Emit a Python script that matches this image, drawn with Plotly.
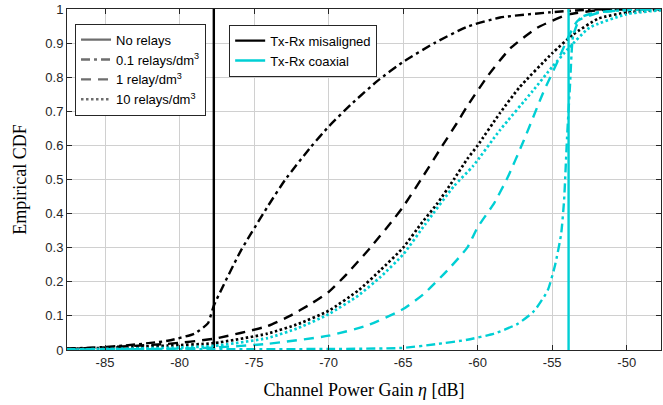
import plotly.graph_objects as go

# ---------------- data ----------------
x_ticks = [-85, -80, -75, -70, -65, -60, -55, -50]
y_ticks = [0, 0.1, 0.2, 0.3, 0.4, 0.5, 0.6, 0.7, 0.8, 0.9, 1]
y_tick_text = ["0", "0.1", "0.2", "0.3", "0.4", "0.5", "0.6", "0.7", "0.8", "0.9", "1"]

# No relays (step CDFs -> vertical lines)
mis_none_x = [-77.7, -77.7]
mis_none_y = [0, 1]
coa_none_x = [-53.9, -53.9]
coa_none_y = [0, 1]

# misaligned, 0.1 relays/dm^3
mis_01_x = [-87.6, -85.3, -83.7, -80.8, -79.0, -78.1, -77.7, -75.9, -74.1, -72.9, -71.2,
            -70.0, -68.5, -66.7, -65.0, -62.9, -60.7, -58.5, -55.2, -52.5, -47.6]
mis_01_y = [0.004, 0.008, 0.013, 0.027, 0.048, 0.078, 0.13, 0.29, 0.42, 0.50, 0.595,
            0.655, 0.72, 0.79, 0.845, 0.90, 0.948, 0.975, 0.99, 0.998, 1.0]

# misaligned, 1 relay/dm^3
mis_1_x = [-87.6, -85.3, -80.8, -77.7, -74.1, -72.6, -71.2, -70.0, -68.8, -67.2, -65.7,
           -65.0, -63.8, -62.5, -61.4, -60.7, -59.3, -57.8, -56.0, -54.0, -52.0, -50.5, -47.6]
mis_1_y = [0.004, 0.007, 0.018, 0.033, 0.07, 0.10, 0.135, 0.17, 0.222, 0.30, 0.38,
           0.42, 0.50, 0.59, 0.665, 0.715, 0.805, 0.885, 0.945, 0.983, 0.996, 0.999, 1.0]

# misaligned, 10 relays/dm^3
mis_10_x = [-87.6, -85.0, -80.8, -77.7, -74.1, -72.0, -70.0, -68.0, -66.5, -65.0, -63.8,
            -62.7, -61.6, -60.7, -60.0, -58.5, -57.2, -55.0, -53.6, -51.9, -50.0, -47.6]
mis_10_y = [0.003, 0.006, 0.013, 0.02, 0.048, 0.077, 0.115, 0.175, 0.235, 0.30, 0.37,
            0.43, 0.50, 0.56, 0.60, 0.695, 0.77, 0.87, 0.925, 0.972, 0.99, 0.998]

# coaxial, 0.1 relays/dm^3
coa_01_x = [-87.6, -70.0, -65.1, -62.8, -60.7, -58.9, -57.3, -56.2, -55.3, -54.8, -54.4,
            -54.2, -54.1, -54.0, -53.8, -53.6, -53.1, -52.0, -50.0, -47.6]
coa_01_y = [0.002, 0.003, 0.006, 0.017, 0.03, 0.048, 0.077, 0.115, 0.175, 0.25, 0.34,
            0.44, 0.53, 0.625, 0.78, 0.92, 0.975, 0.99, 0.997, 1.0]

# coaxial, 1 relay/dm^3
coa_1_x = [-87.6, -80.0, -77.7, -74.1, -70.0, -67.4, -65.0, -63.6, -62.0, -60.7, -60.0,
           -58.9, -58.0, -56.9, -55.6, -54.7, -54.0, -53.3, -51.8, -50.0, -47.6]
coa_1_y = [0.001, 0.004, 0.007, 0.018, 0.042, 0.072, 0.12, 0.165, 0.235, 0.30, 0.36,
           0.43, 0.505, 0.615, 0.755, 0.84, 0.91, 0.965, 0.99, 0.997, 1.0]

# coaxial, 10 relays/dm^3
coa_10_x = [-87.6, -85.0, -80.0, -77.7, -74.1, -72.0, -70.0, -68.0, -66.5, -65.0, -63.5,
            -61.6, -60.3, -58.5, -56.3, -55.0, -53.9, -52.5, -50.0, -47.6]
coa_10_y = [0.001, 0.003, 0.007, 0.012, 0.035, 0.065, 0.105, 0.16, 0.215, 0.28, 0.37,
            0.48, 0.54, 0.645, 0.76, 0.83, 0.885, 0.945, 0.985, 0.997]

legend_density_names = ["No relays", "0.1 relays/dm<sup>3</sup>", "1 relay/dm<sup>3</sup>",
                        "10 relays/dm<sup>3</sup>"]
legend_align_names = ["Tx-Rx misaligned", "Tx-Rx coaxial"]

# ---------------- styles ----------------
BLACK = "#000000"
CYAN = "#00CFD4"
GRAY = "#6e6e6e"
W = 2.4
DASHDOT = "9px,4px,3px,4px"
DASH = "10px,7px"
DOT = "2.5px,2.5px"
styles = ["solid", DASHDOT, DASH, DOT]

fig = go.Figure()

series = [
    (mis_none_x, mis_none_y, BLACK, "solid", W),
    (mis_01_x, mis_01_y, BLACK, DASHDOT, W),
    (mis_1_x, mis_1_y, BLACK, DASH, W),
    (mis_10_x, mis_10_y, BLACK, DOT, 2.7),
    (coa_10_x, coa_10_y, CYAN, DOT, 2.7),
    (coa_1_x, coa_1_y, CYAN, DASH, W),
    (coa_01_x, coa_01_y, CYAN, DASHDOT, W),
    (coa_none_x, coa_none_y, CYAN, "solid", W),
]
for xs, ys, c, d, w in series:
    fig.add_trace(go.Scatter(x=xs, y=ys, mode="lines", showlegend=False,
                             line=dict(color=c, width=w, dash=d, shape="spline", smoothing=0.5),
                             hoverinfo="skip"))

for name, d in zip(legend_density_names, styles):
    fig.add_trace(go.Scatter(x=[None], y=[None], mode="lines", name=name, legend="legend",
                             line=dict(color=GRAY, width=W, dash=d)))
for name, c in zip(legend_align_names, [BLACK, CYAN]):
    fig.add_trace(go.Scatter(x=[None], y=[None], mode="lines", name=name, legend="legend2",
                             line=dict(color=c, width=W)))

axis_common = dict(showgrid=True, gridcolor="#d0d0d0", gridwidth=1, zeroline=False,
                   showline=True, linecolor="#262626", linewidth=1, mirror="ticks",
                   ticks="inside", ticklen=5, tickcolor="#262626",
                   tickfont=dict(family="Liberation Sans, Arial", size=13, color="#262626"))

fig.update_layout(
    width=663, height=405,
    margin=dict(l=67, r=2, t=9, b=55),
    paper_bgcolor="white", plot_bgcolor="white",
    xaxis=dict(range=[-87.55, -47.7], tickvals=x_ticks, ticktext=[str(v) for v in x_ticks],
               title=dict(text="Channel Power Gain <i>η</i> [dB]", standoff=14,
                          font=dict(family="Liberation Serif, Times New Roman", size=18, color="#000")),
               **axis_common),
    yaxis=dict(range=[0, 1], tickvals=y_ticks, ticktext=y_tick_text,
               title=dict(text="Empirical CDF", standoff=14,
                          font=dict(family="Liberation Serif, Times New Roman", size=18, color="#000")),
               **axis_common),
    legend=dict(x=0.0135, y=0.957, xanchor="left", yanchor="top", bgcolor="white",
                bordercolor="#262626", borderwidth=1, tracegroupgap=0,
                font=dict(family="Liberation Sans, Arial", size=13, color="#000")),
    legend2=dict(x=0.273, y=0.954, xanchor="left", yanchor="top", bgcolor="white",
                 bordercolor="#262626", borderwidth=1, tracegroupgap=0,
                 font=dict(family="Liberation Sans, Arial", size=13, color="#000")),
)

fig.write_html("out.html", config={"displayModeBar": False},
               post_script="document.body.style.margin='0';document.body.style.padding='0';")
